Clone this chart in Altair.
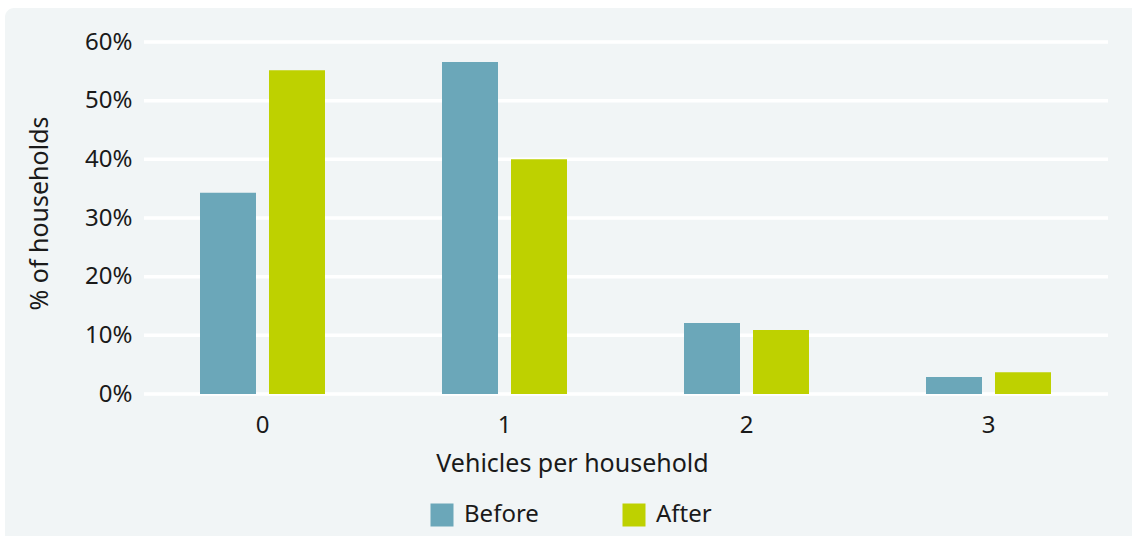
import altair as alt
import pandas as pd

# Share of households by number of vehicles, before and after
vehicles = ["0", "1", "2", "3"]
periods = ["Before", "After"]
before = [34.3, 56.6, 12.1, 2.9]
after = [55.2, 40.0, 10.9, 3.7]
y_ticks = [0, 10, 20, 30, 40, 50, 60]

colors = ["#6ba7b9", "#bed100"]
panel_fill = "#f1f5f6"
text_color = "#1a1a1a"
font = "Noto Sans"

rows = []
for v, b, a in zip(vehicles, before, after):
    rows.append({"vehicles": v, "period": "Before", "share": b})
    rows.append({"vehicles": v, "period": "After", "share": a})
df = pd.DataFrame(rows)
grid_df = pd.DataFrame({"tick": y_ticks})

W, H = 964, 352
PAD = {"left": 144, "top": 42, "right": 24, "bottom": 142}

# light rounded panel behind everything
panel = alt.Chart(pd.DataFrame({"k": [0]})).mark_rect(
    fill=panel_fill, cornerRadius=9
).encode(
    x=alt.value(-139), x2=alt.value(1010),
    y=alt.value(-34), y2=alt.value(520),
)

y_scale = alt.Scale(domain=[0, 60], nice=False)

y_axis = alt.Axis(
    values=y_ticks, labelExpr="datum.value + '%'", domain=False,
    ticks=False, tickSize=0, grid=False, labelPadding=12, zindex=1,
    labelFontSize=24, labelColor=text_color, labelFont=font,
    title="% of households", titleFontSize=25, titleFont=font,
    titleColor=text_color, titleFontWeight="normal",
    titleX=-105, titleY=171, titleBaseline="middle",
)

# white horizontal gridlines
grid = alt.Chart(grid_df).mark_rule(color="white", strokeWidth=3.5).encode(
    y=alt.Y("tick:Q", scale=y_scale, axis=y_axis)
)

bars = alt.Chart(df).mark_bar().encode(
    x=alt.X(
        "vehicles:N", sort=vehicles,
        scale=alt.Scale(range=[-2.5, 965.5], paddingInner=0.4835,
                        paddingOuter=0.24175),
        axis=alt.Axis(
            title="Vehicles per household", labelAngle=0, domain=False,
            ticks=False, tickSize=0, grid=False, labelPadding=19, zindex=1,
            labelFontSize=24, labelColor=text_color, labelFont=font,
            titleFontSize=25, titleFont=font, titleColor=text_color,
            titleFontWeight="normal", titleX=428, titleY=77,
            titleBaseline="alphabetic",
        ),
    ),
    xOffset=alt.XOffset(
        "period:N", sort=periods,
        scale=alt.Scale(domain=periods, paddingInner=0.1884, paddingOuter=0),
    ),
    y=alt.Y("share:Q", scale=y_scale, axis=y_axis),
    color=alt.Color(
        "period:N", sort=periods,
        scale=alt.Scale(domain=periods, range=colors),
        legend=alt.Legend(
            title=None, orient="none", direction="horizontal",
            legendX=286, legendY=461, symbolType="square",
            symbolSize=529, symbolStrokeWidth=0, labelFontSize=24,
            labelFont=font, labelColor=text_color, labelOffset=10,
            columnPadding=83,
        ),
    ),
)

chart = alt.layer(panel, grid, bars).properties(
    width=W, height=H, padding=PAD,
    autosize=alt.AutoSizeParams(type="none"),
    background="white",
).configure_view(stroke=None)

chart.save("out.html", embed_options={"renderer": "svg", "actions": False})
